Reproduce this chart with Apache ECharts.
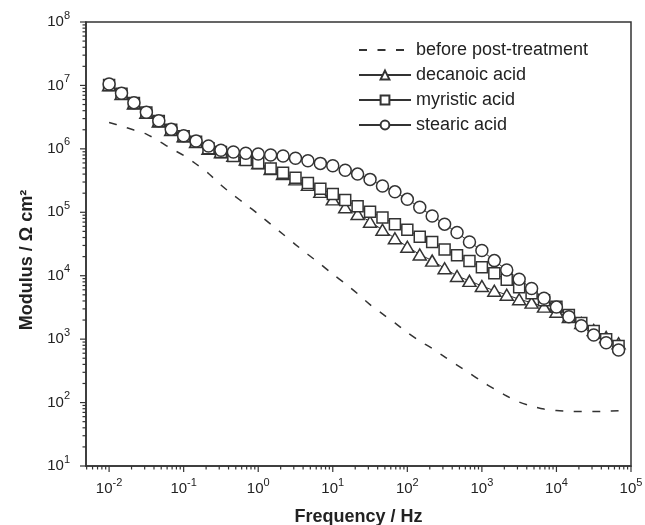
<!DOCTYPE html>
<html><head><meta charset="utf-8">
<script src="https://cdn.jsdelivr.net/npm/echarts@6/dist/echarts.min.js"></script>
<style>html,body{margin:0;padding:0;background:#fff}#c{width:645px;height:525px}</style>
</head><body><div id="c"></div>
<script>
// Frequencies (Hz)
const frequencies = [0.01, 0.01468, 0.02154, 0.03162, 0.04642, 0.06813,
  0.1, 0.1468, 0.2154, 0.3162, 0.4642, 0.6813,
  1, 1.468, 2.154, 3.162, 4.642, 6.813,
  10, 14.68, 21.54, 31.62, 46.42, 68.13,
  100, 146.8, 215.4, 316.2, 464.2, 681.3,
  1000, 1468, 2154, 3162, 4642, 6813,
  10000, 14680, 21540, 31620, 46420, 68130];
// |Z| modulus (Ohm cm2)
const beforeTreatment = [2.61e6, 2.29e6, 1.98e6, 1.71e6, 1.33e6, 1.01e6,
  7.86e5, 5.77e5, 4.09e5, 2.69e5, 1.87e5, 1.33e5,
  9.4e4, 6.5e4, 4.5e4, 3.1e4, 2.16e4, 1.53e4,
  1.06e4, 7.5e3, 5.2e3, 3.5e3, 2.5e3, 1.8e3,
  1.27e3, 935, 713, 524, 391, 292,
  215, 164, 127, 102, 88, 79,
  75, 73, 72, 72, 73, 74.5];
const decanoicAcid = [1.0e7, 7.3e6, 5.2e6, 3.7e6, 2.7e6, 1.98e6,
  1.57e6, 1.28e6, 1.0e6, 8.8e5, 7.8e5, 6.8e5,
  5.9e5, 4.8e5, 4.0e5, 3.3e5, 2.7e5, 2.1e5,
  1.6e5, 1.2e5, 9.4e4, 7.1e4, 5.3e4, 3.9e4,
  2.86e4, 2.16e4, 1.73e4, 1.31e4, 9.9e3, 8.3e3,
  6.9e3, 5.8e3, 5.0e3, 4.25e3, 3.76e3, 3.25e3,
  2.7e3, 2.23e3, 1.8e3, 1.39e3, 1.08e3, 860];
const myristicAcid = [1.02e7, 7.4e6, 5.3e6, 3.75e6, 2.75e6, 2.0e6,
  1.58e6, 1.3e6, 1.02e6, 8.9e5, 7.7e5, 6.7e5,
  6.0e5, 4.9e5, 4.2e5, 3.5e5, 2.9e5, 2.35e5,
  1.95e5, 1.56e5, 1.24e5, 1.02e5, 8.3e4, 6.5e4,
  5.3e4, 4.1e4, 3.4e4, 2.6e4, 2.1e4, 1.7e4,
  1.36e4, 1.09e4, 8.6e3, 6.6e3, 5.3e3, 4.1e3,
  3.25e3, 2.4e3, 1.8e3, 1.34e3, 1.0e3, 780];
const stearicAcid = [1.05e7, 7.52e6, 5.35e6, 3.77e6, 2.78e6, 2.03e6,
  1.61e6, 1.33e6, 1.11e6, 9.5e5, 8.9e5, 8.5e5,
  8.3e5, 8.0e5, 7.7e5, 7.1e5, 6.5e5, 5.9e5,
  5.4e5, 4.6e5, 4.0e5, 3.3e5, 2.6e5, 2.1e5,
  1.6e5, 1.2e5, 8.75e4, 6.5e4, 4.8e4, 3.4e4,
  2.5e4, 1.73e4, 1.23e4, 8.8e3, 6.3e3, 4.4e3,
  3.2e3, 2.26e3, 1.63e3, 1.16e3, 880, 675];
const seriesNames = ['before post-treatment', 'decanoic acid', 'myristic acid', 'stearic acid'];
// Tick values
const xMajorTicks = [0.01, 0.1, 1, 10, 100, 1000, 10000, 100000];
const yMajorTicks = [10, 100, 1e3, 1e4, 1e5, 1e6, 1e7, 1e8];
const X_MIN = 0.0049, X_MAX = 1e5, Y_MIN = 10, Y_MAX = 1e8;

const FONT = '"Liberation Sans", Arial, Helvetica, sans-serif';
const INK = '#333';
const TXT = '#222';

function minorTicks(lo, hi) {
  const out = [];
  for (let e = -4; e <= 8; e++) {
    for (let m = 2; m <= 9; m++) {
      const v = m * Math.pow(10, e);
      if (v > lo * 1.0001 && v < hi * 0.9999) out.push(v);
    }
  }
  return out;
}
const xMinor = minorTicks(X_MIN, X_MAX);
const yMinor = minorTicks(Y_MIN, Y_MAX);

function powLabel(v) {
  const l = Math.log10(v);
  const e = Math.round(l);
  if (Math.abs(l - e) > 1e-6) return '';
  return '{b|10}{s|' + e + '}';
}
const rich = {
  b: { fontSize: 15, lineHeight: 24, color: TXT, fontFamily: FONT },
  s: { fontSize: 11, lineHeight: 10, verticalAlign: 'top', color: TXT, fontFamily: FONT }
};

const pts = arr => frequencies.map((f, i) => [f, arr[i]]);
const markerStyle = { color: '#fff', borderColor: INK, borderWidth: 1.5 };

function tickSeries(values, axis, len) {
  return {
    type: 'custom', silent: true, clip: false, z: 5,
    data: values.map(v => axis === 'x' ? [v, Y_MIN] : [X_MIN, v]),
    renderItem: function (params, api) {
      const p = api.coord([api.value(0), api.value(1)]);
      const shape = axis === 'x'
        ? { x1: p[0], y1: p[1], x2: p[0], y2: p[1] + len }
        : { x1: p[0], y1: p[1], x2: p[0] - len, y2: p[1] };
      return { type: 'line', shape: shape, style: { stroke: INK, lineWidth: 1.2 } };
    }
  };
}

const chart = echarts.init(document.getElementById('c'), null, { renderer: 'canvas' });
chart.setOption({
  animation: false,
  backgroundColor: '#fff',
  grid: { left: 86, right: 14, top: 22, bottom: 59, show: true, borderColor: INK, borderWidth: 1.5,
          containLabel: false, outerBoundsMode: 'none' },
  legend: {
    orient: 'vertical', left: 353, top: 36, itemWidth: 52, itemHeight: 11, itemGap: 7,
    selectedMode: false,
    textStyle: { fontSize: 18, lineHeight: 18, color: TXT, fontFamily: FONT },
    data: [{ name: seriesNames[0], itemStyle: { opacity: 0 } }, seriesNames[1], seriesNames[2], seriesNames[3]]
  },
  xAxis: {
    type: 'log', logBase: 10, min: X_MIN, max: X_MAX,
    name: 'Frequency / Hz', nameLocation: 'middle', nameGap: 42,
    nameTextStyle: { fontSize: 18, fontWeight: 'bold', color: TXT, fontFamily: FONT },
    axisLine: { lineStyle: { color: INK, width: 1.5 } },
    axisTick: { show: false }, minorTick: { show: false },
    splitLine: { show: false },
    axisLabel: { formatter: powLabel, rich: rich, margin: 11, showMinLabel: false }
  },
  yAxis: {
    type: 'log', logBase: 10, min: Y_MIN, max: Y_MAX,
    name: 'Modulus / Ω cm²', nameLocation: 'middle', nameGap: 50,
    nameTextStyle: { fontSize: 18, fontWeight: 'bold', color: TXT, fontFamily: FONT, padding: [0, 32, 0, 0] },
    axisLine: { lineStyle: { color: INK, width: 1.5 } },
    axisTick: { show: false }, minorTick: { show: false },
    splitLine: { show: false },
    axisLabel: { formatter: powLabel, rich: rich, margin: 16 }
  },
  series: [
    { name: seriesNames[0], type: 'line', data: pts(beforeTreatment), symbol: 'none', showSymbol: false,
      smooth: 0.3, z: 2, silent: true,
      itemStyle: { color: INK }, lineStyle: { color: INK, width: 1.5, type: [8, 10.5] } },
    { name: seriesNames[1], type: 'line', data: pts(decanoicAcid), symbol: 'triangle', symbolSize: [13, 11],
      z: 3, silent: true, itemStyle: markerStyle, lineStyle: { color: INK, width: 1 } },
    { name: seriesNames[2], type: 'line', data: pts(myristicAcid), symbol: 'rect', symbolSize: 11,
      z: 3, silent: true, itemStyle: markerStyle, lineStyle: { color: INK, width: 1 } },
    { name: seriesNames[3], type: 'line', data: pts(stearicAcid), symbol: 'circle', symbolSize: 12,
      z: 3, silent: true, itemStyle: markerStyle, lineStyle: { color: INK, width: 1 } },
    tickSeries(xMajorTicks, 'x', 6),
    tickSeries(xMinor, 'x', 3.5),
    tickSeries(yMajorTicks, 'y', 6),
    tickSeries(yMinor, 'y', 3.5)
  ]
});
</script></body></html>
